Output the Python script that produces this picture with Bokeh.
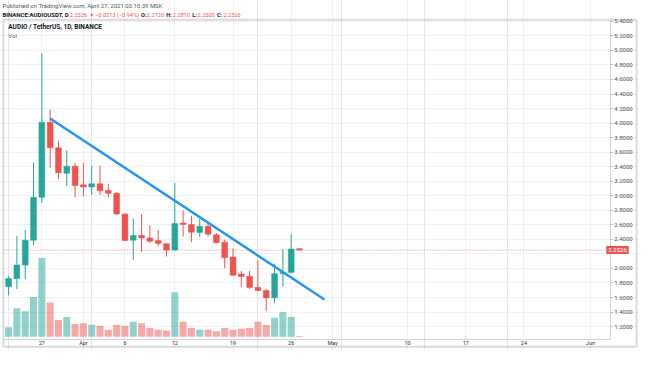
import pandas as pd
from bokeh.plotting import figure
from bokeh.models import (Range1d, FixedTicker, NumeralTickFormatter, Label, LinearAxis,
                          Grid, BoxAnnotation, ColumnDataSource)
from bokeh.embed import file_html
from bokeh.resources import INLINE

# ---------------- data ----------------
dates = pd.date_range("2021-03-23", "2021-04-27", freq="D")
opens = [1.749, 1.862, 2.046, 2.388, 2.980, 4.012, 3.660, 3.309, 3.407, 3.151,
         3.121, 3.165, 3.072, 3.033, 2.749, 2.388, 2.454, 2.420, 2.384, 2.341,
         2.253, 2.625, 2.604, 2.494, 2.580, 2.463, 2.362, 2.157, 1.924, 1.893,
         1.739, 1.696, 1.595, 1.928, 1.946, 2.2720]
highs = [1.900, 2.450, 2.529, 3.459, 4.963, 4.187, 3.757, 3.625, 3.450, 3.450,
         3.415, 3.415, 3.165, 3.050, 2.757, 2.683, 2.749, 2.595, 2.529, 2.341,
         3.174, 2.800, 2.726, 2.683, 2.625, 2.486, 2.397, 2.275, 1.967, 1.967,
         2.112, 1.717, 2.068, 2.266, 2.476, 2.2810]
lows = [1.630, 1.717, 1.849, 2.318, 2.900, 3.384, 3.230, 3.134, 2.980, 2.990,
        3.010, 3.010, 2.980, 2.736, 2.375, 2.121, 2.230, 2.354, 2.309, 2.164,
        2.245, 2.440, 2.360, 2.433, 2.440, 2.345, 2.003, 1.900, 1.749, 1.717,
        1.687, 1.410, 1.520, 1.749, 1.930, 2.2500]
closes = [1.862, 2.046, 2.388, 2.980, 4.012, 3.660, 3.318, 3.407, 3.143, 3.121,
          3.165, 3.068, 3.033, 2.749, 2.384, 2.454, 2.420, 2.375, 2.345, 2.253,
          2.617, 2.604, 2.499, 2.580, 2.472, 2.354, 2.147, 1.907, 1.888, 1.739,
          1.696, 1.595, 1.928, 1.946, 2.266, 2.2526]
volumes = [1.2, 3.6, 3.2, 5.0, 9.9, 4.3, 2.1, 2.5, 1.6, 1.7,
           1.5, 1.4, 0.9, 1.5, 1.4, 1.9, 1.7, 1.1, 0.9, 0.8,
           5.6, 1.9, 1.1, 0.9, 0.9, 0.7, 1.1, 0.9, 1.0, 1.1,
           1.9, 1.5, 2.4, 3.1, 2.5, 0.1]

trend_dates = ["2021-03-28", "2021-04-30"]
trend_prices = [4.064, 1.572]

tick_dates = ["2021-03-27", "2021-04-01", "2021-04-06", "2021-04-12", "2021-04-19",
              "2021-04-26", "2021-05-01", "2021-05-10", "2021-05-17", "2021-05-24",
              "2021-06-01"]
tick_labels = ["27", "Apr", "6", "12", "19", "26", "May", "10", "17", "24", "Jun"]
price_ticks = [1.2, 1.4, 1.6, 1.8, 2.0, 2.2, 2.4, 2.6, 2.8, 3.0, 3.2, 3.4, 3.6,
               3.8, 4.0, 4.2, 4.4, 4.6, 4.8, 5.0, 5.2, 5.4]

# ---------------- layout (reference-pixel geometry) ----------------
W, H = 638, 350            # canvas size
RW, RH = 654, 366          # reference picture size (layout grid)
DAY_PX, X0_PX = 8.52, 8.3  # candle spacing / first candle position
PX_PER_UNIT, Y12_PX = 76.0, 341.0
VOL_PX, VOL0_PX = 0.12, 351.7


def idx_at(rx):            # reference pixel x -> day index
    return (rx - X0_PX) / DAY_PX


def price_at(ry):          # reference pixel y -> price
    return 1.2 + (Y12_PX - ry) / PX_PER_UNIT


PANE_L, PANE_R, PANE_T, PANE_B = 3, 625, 20, 355

t0 = dates[0]
x = [(d - t0).days for d in dates]
GREEN, RED = "#26a69a", "#ef5350"
col = [GREEN if c >= o else RED for o, c in zip(opens, closes)]
src = ColumnDataSource(dict(x=x, o=opens, h=highs, l=lows, c=closes, v=volumes, col=col,
                            top=[max(o, c) for o, c in zip(opens, closes)],
                            bot=[min(o, c) for o, c in zip(opens, closes)]))

p = figure(width=W, height=H, output_backend="svg", toolbar_location=None,
           x_range=Range1d(idx_at(0), idx_at(RW)), y_range=Range1d(price_at(RH), price_at(0)),
           x_axis_location=None, y_axis_location=None, title=None, min_border=0)
p.background_fill_color = "white"
p.border_fill_color = "white"
p.outline_line_color = None
p.extra_x_ranges = {"px": Range1d(0, RW)}
p.extra_y_ranges = {"px": Range1d(RH, 0),
                    "vol": Range1d(-(RH - VOL0_PX) * VOL_PX, VOL0_PX * VOL_PX)}

FONT = "Roboto"
xt = [(pd.Timestamp(d) - t0).days for d in tick_dates]
x_bounds = (idx_at(PANE_L), idx_at(PANE_R))
y_bounds = (price_at(PANE_B), price_at(PANE_T))

# grids
p.add_layout(Grid(dimension=0, ticker=FixedTicker(ticks=xt), bounds=y_bounds,
                  grid_line_color="#eef0f4"))
p.add_layout(Grid(dimension=1, ticker=FixedTicker(ticks=price_ticks), bounds=x_bounds,
                  grid_line_color="#eef0f4"))

# volume
p.vbar(x="x", top="v", bottom=0, width=0.85, fill_color="col", line_color=None,
       fill_alpha=0.5, y_range_name="vol", source=src)

# last price line
last_close = closes[-1]
p.segment(x0=[x_bounds[0]], x1=[x_bounds[1]], y0=[last_close], y1=[last_close],
          line_color=RED, line_alpha=0.4, line_dash="2 1", line_width=1)

# candles
p.segment(x0="x", y0="l", x1="x", y1="h", line_color="col", line_width=1, source=src)
p.vbar(x="x", top="top", bottom="bot", width=0.7, fill_color="col", line_color="col",
       line_width=0.5, source=src)

# trend line
tx = [(pd.Timestamp(d) - t0).days for d in trend_dates]
p.line(tx, trend_prices, line_color="#2196f3", line_width=2.5)

# axes drawn at the pane edges
xaxis = LinearAxis(ticker=FixedTicker(ticks=xt),
                   major_label_overrides={t: lab for t, lab in zip(xt, tick_labels)},
                   fixed_location=price_at(PANE_B), bounds=x_bounds,
                   axis_line_color="#d1d4dc", major_tick_line_color=None,
                   major_tick_out=0, major_tick_in=0,
                   minor_tick_line_color=None, minor_tick_out=0, minor_tick_in=0,
                   major_label_standoff=0,
                   major_label_text_font_size="5.5px", major_label_text_color="#333333",
                   major_label_text_font=FONT)
p.add_layout(xaxis, "below")
yaxis = LinearAxis(ticker=FixedTicker(ticks=price_ticks),
                   formatter=NumeralTickFormatter(format="0.0000"),
                   major_label_overrides={2.2: ""},
                   fixed_location=idx_at(PANE_R), bounds=y_bounds,
                   axis_line_color="#d1d4dc", major_tick_line_color="#b2b5be",
                   major_tick_out=2, major_tick_in=0, minor_tick_line_color=None,
                   minor_tick_out=0, minor_tick_in=0,
                   major_label_standoff=2, major_label_text_font_size="6px",
                   major_label_text_color="#4c525e", major_label_text_font=FONT)
p.add_layout(yaxis, "right")

# outer border of the chart
p.add_layout(BoxAnnotation(left=3, right=652, top=20, bottom=362,
                           x_range_name="px", y_range_name="px",
                           fill_color=None, line_color="#85888f", line_width=2))

# last price tag
p.add_layout(Label(x=621, y=last_close, x_range_name="px",
                   text=f"{last_close:.4f}", text_color="white", text_font=FONT,
                   text_font_size="6px", text_baseline="middle",
                   background_fill_color=RED, padding=2))


def lab(t, rx, ry, color, size="5.6px", bold=False):
    p.add_layout(Label(x=rx, y=ry, x_range_name="px", y_range_name="px", text=t,
                       text_color=color, text_font=FONT, text_font_size=size,
                       text_baseline="middle",
                       text_font_style="bold" if bold else "normal"))


DARK = "#131722"
lab("Published on TradingView.com, April 27, 2021 03:10:39 MSK", 2, 5, "#555555",
    size="6px")
segs = [("BINANCE:AUDIOUSDT, D", 2, DARK, True, "6px"),
        ("2.2526", 71, RED, False, "5.6px"), ("\u25bc", 91, RED, False, "5px"),
        ("\u22120.0213 (\u22120.94%)", 97, RED, False, "5.6px"),
        ("O:", 144, DARK, True, "5.6px"), ("2.2720", 150, RED, False, "5.6px"),
        ("H:", 170, DARK, True, "5.6px"), ("2.2810", 176.5, RED, False, "5.6px"),
        ("L:", 196.5, DARK, True, "5.6px"), ("2.2500", 202, RED, False, "5.6px"),
        ("C:", 222, DARK, True, "5.6px"), ("2.2526", 228.5, RED, False, "5.6px")]
for t, rx, c, b, s in segs:
    lab(t, rx, 15, c, size=s, bold=b)
lab("AUDIO / TetherUS, 1D, BINANCE", 8, 28, DARK, size="6.5px", bold=True)
lab("Vol", 8, 37, "#555555", size="6px")

open("out.html", "w").write(file_html(p, INLINE))
